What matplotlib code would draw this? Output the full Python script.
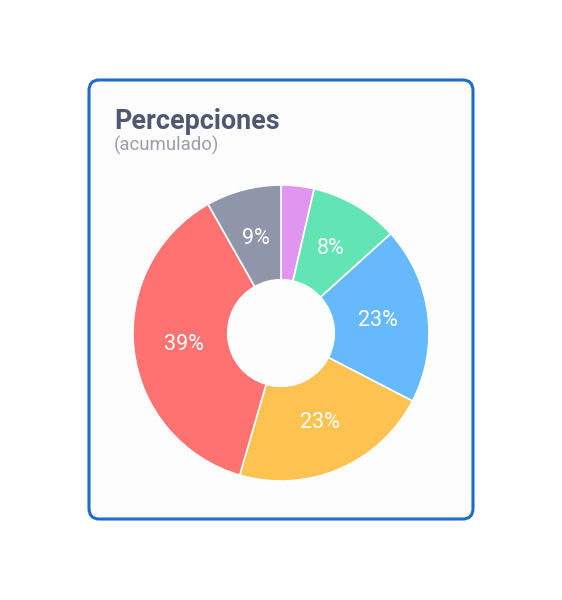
import matplotlib.pyplot as plt
import numpy as np
from matplotlib.patches import FancyBboxPatch

# %% Datos
categorias = ["Otros", "Bonos", "Horas extra", "Vacaciones", "Sueldo", "Aguinaldo"]
valores = [3.6, 9.7, 19.3, 21.9, 37.3, 8.2]
etiquetas = ["", "8%", "23%", "23%", "39%", "9%"]
colores = ["#e096f0", "#62e4b4", "#66b9fc", "#fec250", "#ff7272", "#8f96a9"]

W, H = 562, 600
fig = plt.figure(figsize=(W / 100, H / 100), dpi=100)
fig.patch.set_facecolor("white")

# %% Tarjeta
x0, y0, x1, y1 = 89, 80, 473, 519
card = FancyBboxPatch(
    (x0 / W, 1 - y1 / H), (x1 - x0) / W, (y1 - y0) / H,
    boxstyle="round,pad=0,rounding_size=0.018",
    transform=fig.transFigure, facecolor="#fdfdfd", edgecolor="#1f6cc6",
    linewidth=2.2, zorder=-5,
)
fig.patches.append(card)

fig.text(114 / W, 1 - 129 / H, "Percepciones", family="Roboto", weight="bold",
         fontsize=19.4, color="#505770", va="baseline")
fig.text(114 / W, 1 - 151 / H, "(acumulado)", family="Roboto",
         fontsize=13.4, color="#9a9fae", va="baseline")

# %% Dona
cx, cy, r = 281, 333, 148
ax = fig.add_axes([(cx - r) / W, 1 - (cy + r) / H, 2 * r / W, 2 * r / H], zorder=2)
ax.patch.set_alpha(0)
wedges, _ = ax.pie(
    valores, colors=colores, startangle=90, counterclock=False, radius=1,
    wedgeprops=dict(width=0.64, edgecolor="white", linewidth=1.2),
)
for w, txt in zip(wedges, etiquetas):
    th = np.deg2rad((w.theta1 + w.theta2) / 2)
    ax.text(0.66 * np.cos(th), 0.66 * np.sin(th), txt, ha="center", va="center",
            family="Roboto", fontsize=15.5, color="white")
ax.set_xlim(-1, 1)
ax.set_ylim(-1, 1)
ax.set_aspect("equal")
ax.axis("off")

fig.savefig("out.png", dpi=100)
